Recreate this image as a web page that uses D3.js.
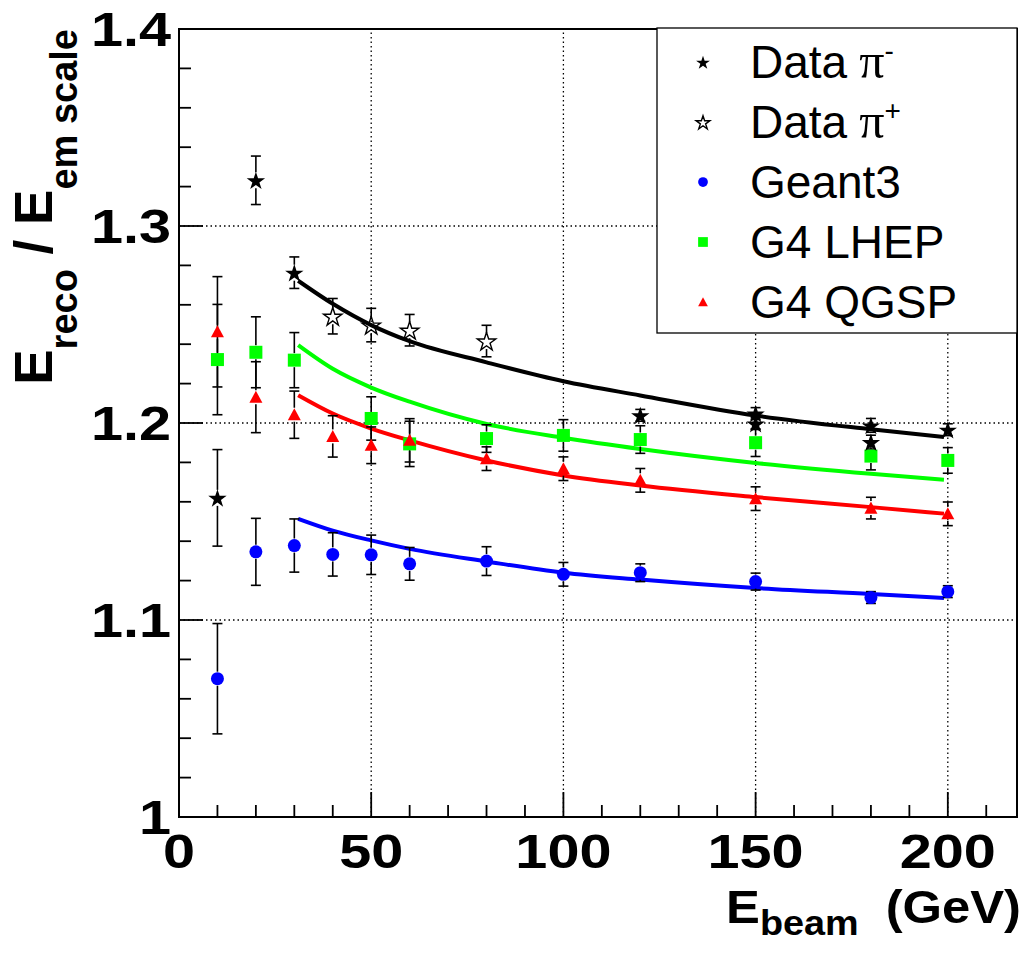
<!DOCTYPE html>
<html><head><meta charset="utf-8">
<script src="https://cdn.jsdelivr.net/npm/d3@7"></script>
<style>body{margin:0;background:#fff}</style>
</head><body>
<svg id="c" width="1027" height="958" xmlns="http://www.w3.org/2000/svg"></svg>
<script>
// ---------- data ----------
const xMajorTicks = [0, 50, 100, 150, 200];
const xTickLabels = ["0", "50", "100", "150", "200"];
const yMajorTicks = [1.0, 1.1, 1.2, 1.3, 1.4];
const yTickLabels = ["1", "1.1", "1.2", "1.3", "1.4"];

const piMinusE   = [10, 20, 30, 120, 150, 150, 180, 180, 200];
const piMinusV   = [1.162, 1.3232, 1.2763, 1.2039, 1.2048, 1.1997, 1.1988, 1.1903, 1.1966];
const piMinusErr = [0.0245, 0.0123, 0.008, 0.003, 0.003, 0.003, 0.0035, 0.0035, 0.003];

const piPlusE   = [40, 50, 60, 80];
const piPlusV   = [1.2542, 1.2497, 1.2471, 1.2416];
const piPlusErr = [0.009, 0.0085, 0.008, 0.008];

const geant3E   = [10, 20, 30, 40, 50, 60, 80, 100, 120, 150, 180, 200];
const geant3V   = [1.0702, 1.1346, 1.1378, 1.1333, 1.1331, 1.1285, 1.1299, 1.1232, 1.1240, 1.1195, 1.1114, 1.1144];
const geant3Err = [0.028, 0.017, 0.0135, 0.011, 0.010, 0.0083, 0.0073, 0.006, 0.0045, 0.0043, 0.003, 0.003];

const lhepE   = [10, 20, 30, 50, 60, 80, 100, 120, 150, 180, 200];
const lhepV   = [1.2322, 1.2359, 1.2319, 1.2023, 1.1894, 1.1921, 1.1937, 1.1916, 1.1900, 1.1832, 1.1810];
const lhepErr = [0.028, 0.018, 0.014, 0.011, 0.0115, 0.007, 0.008, 0.007, 0.007, 0.007, 0.0065];

const qgspE   = [10, 20, 30, 40, 50, 60, 80, 100, 120, 150, 180, 200];
const qgspV   = [1.2463, 1.2131, 1.2042, 1.1932, 1.1887, 1.1912, 1.1819, 1.1768, 1.1709, 1.1616, 1.1568, 1.1539];
const qgspErr = [0.028, 0.018, 0.012, 0.0105, 0.0093, 0.011, 0.006, 0.006, 0.006, 0.006, 0.0055, 0.006];

// fitted curves
const fitE      = [31, 40, 50, 60, 80, 100, 120, 150, 180, 199];
const fitData   = [1.2722, 1.2605, 1.2497, 1.2415, 1.2308, 1.2212, 1.2140, 1.2038, 1.1968, 1.1929];
const fitLhep   = [1.2395, 1.2275, 1.2180, 1.2108, 1.1995, 1.1925, 1.1868, 1.1797, 1.1742, 1.1712];
const fitQgsp   = [1.2141, 1.2048, 1.1972, 1.1912, 1.1810, 1.1734, 1.1683, 1.1624, 1.1573, 1.1540];
const fitGeant3 = [1.1514, 1.1454, 1.1404, 1.1361, 1.1297, 1.1240, 1.1205, 1.1162, 1.1132, 1.1112];

const legendLabels = ["Data", "Data", "Geant3", "G4 LHEP", "G4 QGSP"];

// ---------- layout ----------
const svg = d3.select("#c");
const L = 179, R = 1017, T = 29, B = 817;
const x = d3.scaleLinear().domain([0, 218]).range([L, R]);
const y = d3.scaleLinear().domain([1.0, 1.4]).range([B, T]);
const SX = 1.2; // horizontal stretch of the tick labels
const FONT = "'Liberation Sans', Arial, Helvetica, sans-serif";

function stext(g, px, py, str, size, weight, anchor, sx) {
  return g.append("text")
    .attr("transform", `translate(${px},${py}) scale(${sx || SX},1)`)
    .attr("text-anchor", anchor || "start")
    .attr("font-family", FONT)
    .attr("font-size", size)
    .attr("font-weight", weight || "normal")
    .text(str);
}

// grid
const grid = svg.append("g").attr("stroke", "#000").attr("stroke-width", 1.3).attr("stroke-dasharray", "1.5,3");
[50, 100, 150, 200].forEach(v => grid.append("line").attr("x1", x(v)).attr("x2", x(v)).attr("y1", B).attr("y2", T));
[1.1, 1.2, 1.3].forEach(v => grid.append("line").attr("x1", L).attr("x2", R).attr("y1", y(v)).attr("y2", y(v)));

// ticks
const ticks = svg.append("g").attr("stroke", "#000").attr("stroke-width", 1.8);
d3.range(0, 211, 10).forEach(v => {
  const len = (v % 50 === 0) ? 25 : 12;
  ticks.append("line").attr("x1", x(v)).attr("x2", x(v)).attr("y1", B).attr("y2", B - len);
});
d3.range(0, 21, 1).forEach(i => {
  const v = 1.0 + i * 0.02;
  const len = (i % 5 === 0) ? 24 : 12;
  ticks.append("line").attr("x1", L).attr("x2", L + len).attr("y1", y(v)).attr("y2", y(v));
});

// fit curves
const line = d3.line().x(d => x(d[0])).y(d => y(d[1])).curve(d3.curveMonotoneX);
[[fitData, "#000"], [fitLhep, "#00ff00"], [fitQgsp, "#ff0000"], [fitGeant3, "#0000ff"]].forEach(([vals, col]) => {
  svg.append("path").datum(fitE.map((e, i) => [e, vals[i]]))
    .attr("d", line).attr("fill", "none").attr("stroke", col).attr("stroke-width", 4);
});

// error bars
const eb = svg.append("g").attr("stroke", "#000").attr("stroke-width", 1.6);
function errBars(E, V, Er, gap) {
  E.forEach((e, i) => {
    const cx = x(e), cy = y(V[i]), yt = y(V[i] + Er[i]), yb = y(V[i] - Er[i]);
    if (cy - gap > yt) eb.append("line").attr("x1", cx).attr("x2", cx).attr("y1", yt).attr("y2", cy - gap);
    if (cy + gap < yb) eb.append("line").attr("x1", cx).attr("x2", cx).attr("y1", cy + gap).attr("y2", yb);
    eb.append("line").attr("x1", cx - 5).attr("x2", cx + 5).attr("y1", yt).attr("y2", yt);
    eb.append("line").attr("x1", cx - 5).attr("x2", cx + 5).attr("y1", yb).attr("y2", yb);
  });
}
errBars(geant3E, geant3V, geant3Err, 7);
errBars(lhepE, lhepV, lhepErr, 7);
errBars(qgspE, qgspV, qgspErr, 7);
errBars(piPlusE, piPlusV, piPlusErr, 8);
errBars(piMinusE, piMinusV, piMinusErr, 8);

// markers
const star = d3.symbol().type(d3.symbolStar);
function drawMarker(g, kind, cx, cy, s) {
  s = s || 1;
  if (kind === "circle") {
    g.append("circle").attr("cx", cx).attr("cy", cy).attr("r", 6.5 * s).attr("fill", "#0000ff");
  } else if (kind === "square") {
    g.append("rect").attr("x", cx - 6.5 * s).attr("y", cy - 6.5 * s).attr("width", 13 * s).attr("height", 13 * s).attr("fill", "#00ff00");
  } else if (kind === "triangle") {
    const h = 6.5 * s;
    g.append("path").attr("d", `M${cx},${cy - h}L${cx + h},${cy + h * 0.85}L${cx - h},${cy + h * 0.85}Z`).attr("fill", "#ff0000");
  } else if (kind === "star") {
    g.append("path").attr("d", star.size(105 * s * s)()).attr("transform", `translate(${cx},${cy + 1})`).attr("fill", "#000");
  } else if (kind === "ostar") {
    g.append("path").attr("d", star.size(105 * s * s)()).attr("transform", `translate(${cx},${cy + 1})`)
      .attr("fill", "none").attr("stroke", "#000").attr("stroke-width", 1.4);
  }
}
const mk = svg.append("g");
geant3E.forEach((e, i) => drawMarker(mk, "circle", x(e), y(geant3V[i])));
lhepE.forEach((e, i) => drawMarker(mk, "square", x(e), y(lhepV[i])));
qgspE.forEach((e, i) => drawMarker(mk, "triangle", x(e), y(qgspV[i])));
piPlusE.forEach((e, i) => drawMarker(mk, "ostar", x(e), y(piPlusV[i])));
piMinusE.forEach((e, i) => drawMarker(mk, "star", x(e), y(piMinusV[i])));

// frame
svg.append("rect").attr("x", L).attr("y", T).attr("width", R - L).attr("height", B - T)
  .attr("fill", "none").attr("stroke", "#000").attr("stroke-width", 2);

// tick labels
const tl = svg.append("g");
xMajorTicks.forEach((v, i) => stext(tl, x(v), 868, xTickLabels[i], 48, "bold", "middle"));
yMajorTicks.forEach((v, i) => stext(tl, 171, y(v) + 17, yTickLabels[i], 48, "bold", "end"));

// axis titles
const xt = svg.append("text")
  .attr("transform", `translate(1021,923) scale(1.08,1)`)
  .attr("text-anchor", "end")
  .attr("font-family", FONT)
  .attr("font-weight", "bold").attr("font-size", 47);
xt.append("tspan").text("E");
xt.append("tspan").attr("font-size", 35).attr("dy", 12).text("beam");
xt.append("tspan").attr("dy", -12).attr("dx", 12).text(" (GeV)");

const yt = svg.append("text")
  .attr("transform", `translate(52,29) rotate(-90)`)
  .attr("text-anchor", "end")
  .attr("font-family", FONT)
  .attr("font-weight", "bold").attr("font-size", 53);
yt.append("tspan").text("E");
yt.append("tspan").attr("font-size", 38).attr("dy", 25).text("reco");
yt.append("tspan").attr("dy", -25).text(" / E");
yt.append("tspan").attr("font-size", 38).attr("dy", 25).text("em scale");

// legend
const lg = svg.append("g");
lg.append("rect").attr("x", 657).attr("y", 28).attr("width", 360).attr("height", 305)
  .attr("fill", "#fff").attr("stroke", "#000").attr("stroke-width", 1.3);
const kinds = ["star", "ostar", "circle", "square", "triangle"];
const sups = ["-", "+", null, null, null];
kinds.forEach((k, i) => {
  const cy = 62 + i * 60;
  drawMarker(lg, k, 703, cy, 0.75);
  const t = lg.append("text")
    .attr("transform", `translate(750,${cy + 16})`)
    .attr("font-family", FONT)
    .attr("font-size", 46);
  t.append("tspan").text(legendLabels[i]);
  if (sups[i]) {
    t.append("tspan").attr("font-family", "'Liberation Serif', 'DejaVu Serif', serif").attr("dx", 12).attr("font-size", 50).text("π");
    t.append("tspan").attr("font-size", 28).attr("dy", -18).text(sups[i]);
  }
});
</script>
</body></html>
